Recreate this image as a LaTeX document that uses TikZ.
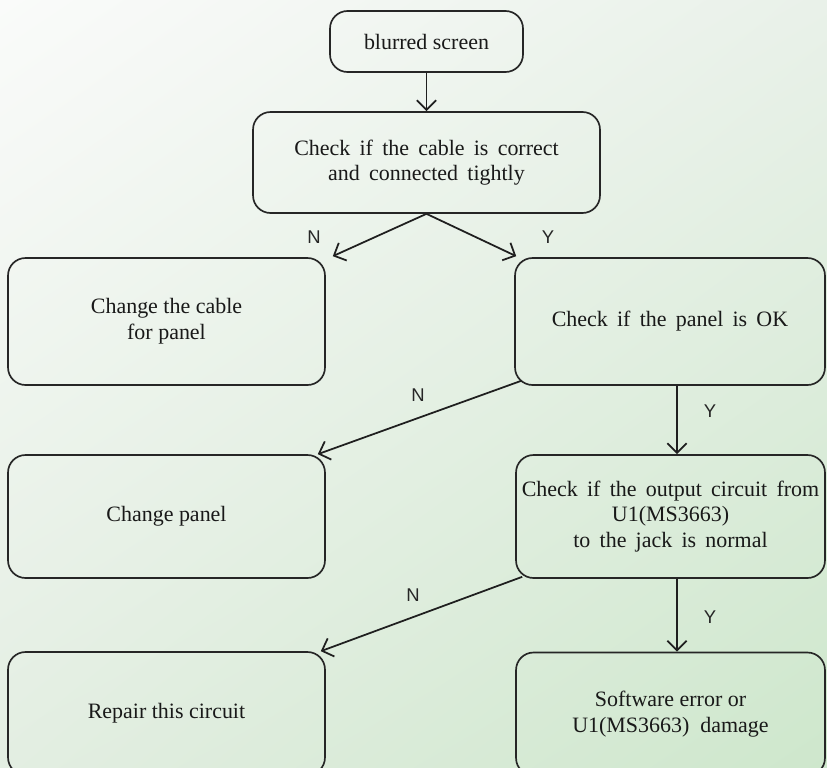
\documentclass[tikz,border=0pt]{standalone}
\usepackage{fontspec}
\setmainfont{Liberation Serif}
\newfontfamily\labfont{Liberation Sans}
\usetikzlibrary{calc,positioning,arrows.meta,shadings}

\definecolor{bgTL}{RGB}{250,251,250}
\definecolor{bgTR}{RGB}{233,241,233}
\definecolor{bgBL}{RGB}{227,238,226}
\definecolor{bgBR}{RGB}{206,231,204}

\newcommand{\widesp}{\spaceskip=0.42em plus 0.1em\relax}

\begin{document}
\begin{tikzpicture}[x=0.02cm, y=-0.02cm,
    box/.style={draw=black!85, line width=0.95pt, rounded corners=0.35cm, align=center,
        inner sep=2pt, text=black!90, font=\fontsize{12.5}{14.6}\selectfont},
    wide/.style={font=\fontsize{12.5}{14.6}\selectfont\widesp},
    flow/.style={-{Straight Barb[length=5.5pt,width=11pt]}, line width=1pt, draw=black!88},
    yn/.style={text=black!85, font=\labfont\fontsize{10.5}{12}\selectfont}]

    % Background
    \clip (0,0) rectangle (827,767);
    \shade[upper left=bgTL, upper right=bgTR, lower left=bgBL, lower right=bgBR]
        (0,0) rectangle (827,767);

    % Top of the chart
    \node[box, minimum width=3.86cm, minimum height=1.22cm] (start) at (426.5,41.5) {blurred screen};
    \node[box, wide, minimum width=6.94cm, minimum height=2.02cm] (chkcable) at (426.5,162.5)
        {Check if the cable is correct\\ and connected tightly};

    % Left column (N branches)
    \node[box, minimum width=6.34cm, minimum height=2.54cm] (chgcable) at (166.5,321.5) {Change the cable\\for panel};
    \node[box, minimum width=6.34cm, minimum height=2.46cm] (chgpanel) at (166.5,516.5) {Change panel};
    \node[box, minimum width=6.34cm, minimum height=2.46cm] (repair) at (166.5,713.5) {Repair this circuit};

    % Right column (Y branches)
    \node[box, wide, minimum width=6.2cm, minimum height=2.54cm] (chkpanel) at (670,321.5) {Check if the panel is OK};
    \node[box, wide, minimum width=6.18cm, minimum height=2.46cm] (chkout) at (670.5,516.5)
        {Check if the output circuit from\\U1(MS3663)\\to the jack is normal};
    \node[box, minimum width=6.18cm, minimum height=2.46cm] (software) at (670.5,714)
        {Software error or\\U1(MS3663)~ damage};

    % Y / N labels
    \node[yn] (n1) at (314,237) {N};
    \node[yn] (y1) at (548,237) {Y};
    \node[yn] (n2) at (418,395) {N};
    \node[yn] (y2) at (710,411) {Y};
    \node[yn] (n3) at (413,595) {N};
    \node[yn] (y3) at (710,617) {Y};

    % Connections
    \draw[flow] (start) -- (chkcable);
    \draw[flow] (chkcable.south) -- ($(chgcable.north east)+(7,-1)$);
    \draw[flow] (chkcable.south) -- ($(chkpanel.north west)+(2,-1)$);
    \draw[flow] ($(chkpanel.south)+(7,0)$) -- ($(chkout.north)+(6.5,0)$);
    \draw[flow] ($(chkpanel.south west)+(7,-5)$) -- ($(chgpanel.north east)+(-8,0)$);
    \draw[flow] ($(chkout.south)+(6.5,0)$) -- ($(software.north)+(6.5,0)$);
    \draw[flow] ($(chkout.south west)+(7,-2)$) -- ($(repair.north east)+(-5,0)$);

\end{tikzpicture}
\end{document}
